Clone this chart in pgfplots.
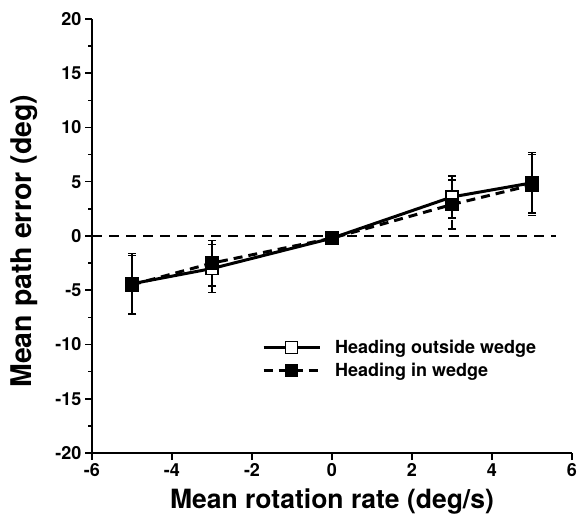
\documentclass[border=0pt]{standalone}
\usepackage{pgfplots}
\pgfplotsset{compat=1.18}
\usepackage{fontspec}
\setmainfont{TeX Gyre Heros}

\begin{document}
\begin{tikzpicture}
\useasboundingbox (-92pt,-68pt) rectangle (485pt,453pt);
\begin{axis}[
  at={(0,0)}, anchor=south west,
  scale only axis,
  width=480pt, height=434pt,
  xmin=-6, xmax=6, ymin=-20, ymax=20,
  axis x line*=bottom, axis y line*=left,
  axis line style={line width=1.8pt},
  xtick={-6,-4,...,6},
  ytick={-20,-15,...,20},
  minor y tick num=1,
  tick align=outside,
  major tick length=7pt, minor tick length=4pt,
  tick style={line width=1.5pt, black},
  /pgf/number format/assume math mode=true,
  ticklabel style={font=\fontsize{18}{19}\selectfont\bfseries},
  xlabel={Mean rotation rate (deg/s)},
  ylabel={Mean path error (deg)},
  xlabel style={font=\fontsize{26.5}{28}\selectfont\bfseries,
    at={(axis description cs:0.5,-0.111)}, anchor=center},
  ylabel style={font=\fontsize{28.5}{30}\selectfont\bfseries,
    at={(axis description cs:-0.142,0.488)}, anchor=center},
  legend style={at={(0.354,0.265)}, anchor=north west, draw=none, fill=none,
    inner sep=0pt, font=\fontsize{18}{19}\selectfont\bfseries, row sep=4pt,
    cells={anchor=west},
    /tikz/every odd column/.append style={column sep=12pt}},
  legend image code/.code={%
    \draw[mark repeat=2, mark phase=2, #1] plot coordinates {(0pt,0pt) (28pt,0pt) (56pt,0pt)};},
  error bars/y dir=both, error bars/y explicit,
  error bars/error mark options={rotate=90, mark size=4pt, line width=1.6pt},
  error bars/error bar style={line width=1.6pt},
]
% zero reference line
\addplot[forget plot, black, line width=1.6pt, dash pattern=on 10pt off 7pt]
  coordinates {(-6,0) (5.6,0)};

\addplot[black, line width=3pt, mark=square*,
  mark options={fill=white, solid, line width=1.5pt, mark size=6pt}]
  coordinates {
    (-5,-4.4) +- (0,2.8)
    (-3,-3.0) +- (0,2.2)
    (0,-0.2)  +- (0,0)
    (3,3.6)   +- (0,1.95)
    (5,4.9)   +- (0,2.8)
  };
\addlegendentry{Heading outside wedge}

\addplot[black, line width=3pt, dash pattern=on 9pt off 6pt, mark=square*,
  mark options={fill=black, solid, line width=1.5pt, mark size=6pt}]
  coordinates {
    (-5,-4.5) +- (0,2.7)
    (-3,-2.5) +- (0,2.1)
    (0,-0.2)  +- (0,0)
    (3,2.9)   +- (0,2.25)
    (5,4.7)   +- (0,2.8)
  };
\addlegendentry{Heading in wedge}
\end{axis}
\end{tikzpicture}
\end{document}
